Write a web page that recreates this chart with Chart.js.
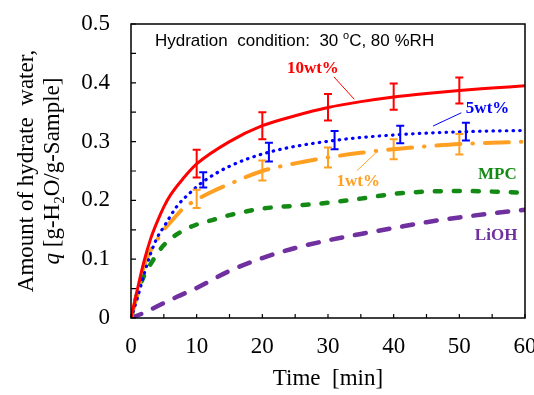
<!DOCTYPE html>
<html>
<head>
<meta charset="utf-8">
<script src="https://cdn.jsdelivr.net/npm/chart.js@4.4.0/dist/chart.umd.min.js"></script>
<style>
  html, body { margin: 0; padding: 0; background: #fff; overflow: hidden; }
  #wrap { width: 545px; height: 395px; }
</style>
</head>
<body>
<div id="wrap"><canvas id="chart" width="545" height="395"></canvas></div>
<script>
// ===== DATA =====
const time10 = [0, 1, 2, 3, 4, 5, 6, 8, 10, 15, 20, 25, 30, 35, 40, 45, 50, 55, 60];
const q10 = [0, 0.05, 0.097, 0.135, 0.164, 0.189, 0.209, 0.238, 0.262, 0.30, 0.327, 0.344, 0.358, 0.368, 0.376, 0.382, 0.387, 0.391, 0.395];

const time5 = [0, 1, 2, 3, 4, 5, 7, 9, 11, 15, 21, 31, 41, 51, 60];
const q5 = [0, 0.035, 0.075, 0.11, 0.137, 0.155, 0.19, 0.213, 0.232, 0.258, 0.282, 0.302, 0.312, 0.317, 0.319];

const time1 = [0, 1, 2, 3, 4, 5, 6.5, 8, 10, 12, 15, 20, 25, 30, 35, 40, 45, 50, 55, 60];
const q1 = [0, 0.042, 0.09, 0.115, 0.133, 0.15, 0.169, 0.187, 0.201, 0.213, 0.228, 0.25, 0.263, 0.273, 0.281, 0.287, 0.292, 0.296, 0.298, 0.30];

const timeMPC = [0, 1, 2, 3, 5, 7.5, 10, 12.5, 15, 20, 25, 30, 35, 40, 45, 50, 55, 60];
const qMPC = [0, 0.043, 0.072, 0.092, 0.124, 0.146, 0.159, 0.167, 0.175, 0.186, 0.191, 0.196, 0.203, 0.211, 0.215, 0.216, 0.215, 0.213];

const timeLiOH = [0, 2, 4, 7, 10, 15, 20, 25, 30, 35, 40, 45, 50, 55, 60];
const qLiOH = [0, 0.009, 0.02, 0.036, 0.051, 0.08, 0.102, 0.119, 0.132, 0.143, 0.153, 0.163, 0.171, 0.178, 0.184];

// error bars (low / high)
const errTime10 = [10, 20, 30, 40, 50];
const errLow10 = [0.239, 0.304, 0.336, 0.354, 0.365];
const errHigh10 = [0.286, 0.350, 0.381, 0.399, 0.409];

const errTime5 = [11, 21, 31, 41, 51];
const errLow5 = [0.222, 0.266, 0.287, 0.297, 0.302];
const errHigh5 = [0.248, 0.298, 0.318, 0.327, 0.332];

const errTime1 = [10, 20, 30, 40, 50];
const errLow1 = [0.187, 0.234, 0.256, 0.270, 0.278];
const errHigh1 = [0.218, 0.268, 0.290, 0.304, 0.313];

const xTicks = [0, 10, 20, 30, 40, 50, 60];
const yTicks = [0, 0.1, 0.2, 0.3, 0.4, 0.5];

const RED = '#ff0000', BLUE = '#0000ff', ORANGE = '#ffa023', GREEN = '#138a13', PURPLE = '#7030a0';
const SERIF = '"Liberation Serif", "Times New Roman", serif';

function pts(xs, ys) {
  return xs.map((t, i) => ({ x: t, y: ys[i] }));
}

// ===== PLUGINS =====
const errorBars = {
  id: 'errorBars',
  afterDatasetsDraw(chart) {
    const { ctx, scales: { x, y } } = chart;
    const sets = [
      [errTime10, errLow10, errHigh10, RED],
      [errTime5, errLow5, errHigh5, BLUE],
      [errTime1, errLow1, errHigh1, ORANGE]
    ];
    ctx.save();
    ctx.lineWidth = 2;
    sets.forEach(([ts, lo, hi, color]) => {
      ctx.strokeStyle = color;
      ts.forEach((t, i) => {
        const px = x.getPixelForValue(t);
        const y1 = y.getPixelForValue(lo[i]);
        const y2 = y.getPixelForValue(hi[i]);
        ctx.beginPath();
        ctx.moveTo(px, y1); ctx.lineTo(px, y2);
        ctx.moveTo(px - 4, y1); ctx.lineTo(px + 4, y1);
        ctx.moveTo(px - 4, y2); ctx.lineTo(px + 4, y2);
        ctx.stroke();
      });
    });
    ctx.restore();
  }
};

const frame = {
  id: 'frame',
  afterDraw(chart) {
    const { ctx, chartArea: a, scales: { x, y } } = chart;
    ctx.save();
    ctx.strokeStyle = '#000';
    ctx.lineWidth = 1.5;
    ctx.strokeRect(a.left, a.top, a.right - a.left, a.bottom - a.top);
    ctx.lineWidth = 1.2;
    ctx.beginPath();
    for (let t = 0; t <= 60; t += 5) {
      const px = x.getPixelForValue(t);
      ctx.moveTo(px, a.bottom); ctx.lineTo(px, a.bottom - 4);
    }
    for (let v = 0; v <= 0.5001; v += 0.05) {
      const py = y.getPixelForValue(v);
      ctx.moveTo(a.left, py); ctx.lineTo(a.left + 5, py);
    }
    ctx.stroke();
    ctx.restore();
  }
};

const labels = {
  id: 'labels',
  afterDraw(chart) {
    const { ctx, scales: { x, y } } = chart;
    const X = v => x.getPixelForValue(v);
    const Y = v => y.getPixelForValue(v);
    ctx.save();

    // condition text
    ctx.fillStyle = '#000';
    ctx.textBaseline = 'alphabetic';
    ctx.textAlign = 'left';
    let cx = X(3.65), cy = Y(0.462);
    ctx.font = '17px "Liberation Sans", Arial, sans-serif';
    const s1 = 'Hydration  condition:  30 ';
    ctx.fillText(s1, cx, cy); cx += ctx.measureText(s1).width;
    ctx.font = '11px "Liberation Sans", Arial, sans-serif';
    ctx.fillText('o', cx, cy - 7); cx += ctx.measureText('o').width;
    ctx.font = '17px "Liberation Sans", Arial, sans-serif';
    ctx.fillText('C, 80 %RH', cx, cy);

    // series labels
    ctx.font = 'bold 17px ' + SERIF;
    ctx.textAlign = 'center';
    [['10wt%', 27.7, 0.417, RED], ['5wt%', 54.3, 0.349, BLUE], ['1wt%', 34.6, 0.2245, ORANGE],
     ['MPC', 55.8, 0.236, GREEN], ['LiOH', 55.6, 0.133, PURPLE]].forEach(([txt, t, q, c]) => {
      ctx.fillStyle = c;
      ctx.fillText(txt, X(t), Y(q));
    });

    // leader lines
    ctx.lineWidth = 1;
    [[30.9, 0.410, 34.0, 0.372, RED], [50.3, 0.349, 46.0, 0.3265, BLUE], [34.4, 0.2505, 37.2, 0.280, ORANGE]]
      .forEach(([t1, q1_, t2, q2, c]) => {
        ctx.strokeStyle = c;
        ctx.beginPath();
        ctx.moveTo(X(t1), Y(q1_)); ctx.lineTo(X(t2), Y(q2));
        ctx.stroke();
      });

    // y axis title (two lines, rotated)
    ctx.fillStyle = '#000';
    ctx.textAlign = 'left';
    const midY = (chart.chartArea.top + chart.chartArea.bottom) / 2;
    ctx.translate(33, midY);
    ctx.rotate(-Math.PI / 2);
    ctx.font = '23px ' + SERIF;
    const l1 = 'Amount of hydrate  water,';
    ctx.fillText(l1, -ctx.measureText(l1).width / 2, 0);

    const parts = [
      ['q', 'italic 23px ' + SERIF, 0],
      [' [g-H', '23px ' + SERIF, 0],
      ['2', '15px ' + SERIF, 5],
      ['O/g-Sample]', '23px ' + SERIF, 0]
    ];
    let w = 0;
    parts.forEach(p => { ctx.font = p[1]; w += ctx.measureText(p[0]).width; });
    let px = -w / 2;
    parts.forEach(p => {
      ctx.font = p[1];
      ctx.fillText(p[0], px, 26 + p[2]);
      px += ctx.measureText(p[0]).width;
    });
    ctx.restore();
  }
};

// ===== CHART =====
const ctx = document.getElementById('chart');

new Chart(ctx, {
  type: 'line',
  data: {
    datasets: [
      { label: '10wt%', data: pts(time10, q10), borderColor: RED, borderWidth: 3 },
      { label: '5wt%', data: pts(time5, q5), borderColor: BLUE, borderWidth: 3.2,
        borderDash: [0.5, 6.2], borderCapStyle: 'round' },
      { label: '1wt%', data: pts(time1, q1), borderColor: ORANGE, borderWidth: 4,
        borderDash: [24, 12, 0.5, 12], borderCapStyle: 'round' },
      { label: 'MPC', data: pts(timeMPC, qMPC), borderColor: GREEN, borderWidth: 4.5,
        borderDash: [6, 13], borderCapStyle: 'round' },
      { label: 'LiOH', data: pts(timeLiOH, qLiOH), borderColor: PURPLE, borderWidth: 4.5,
        borderDash: [11, 13], borderCapStyle: 'round' }
    ]
  },
  options: {
    responsive: false,
    animation: false,
    devicePixelRatio: 1,
    layout: { padding: { top: 24, right: 20, left: 0, bottom: 0 } },
    elements: {
      point: { radius: 0 },
      line: { cubicInterpolationMode: 'monotone', fill: false }
    },
    plugins: { legend: { display: false }, tooltip: { enabled: false } },
    scales: {
      x: {
        type: 'linear', min: 0, max: 60,
        afterBuildTicks: s => { s.ticks = xTicks.map(v => ({ value: v })); },
        afterFit: s => { s.height = 77; s.paddingLeft = 0; s.paddingRight = 0; },
        grid: { display: false, drawTicks: false },
        border: { display: false },
        ticks: { color: '#000', padding: 15, font: { family: SERIF, size: 23 } },
        title: { display: true, text: 'Time  [min]', color: '#000', padding: { top: 0, bottom: 2 },
                 font: { family: SERIF, size: 23 } }
      },
      y: {
        min: 0, max: 0.5,
        afterBuildTicks: s => { s.ticks = yTicks.map(v => ({ value: v })); },
        afterFit: s => { s.width = 131; s.paddingTop = 0; s.paddingBottom = 0; },
        grid: { display: false, drawTicks: false },
        border: { display: false },
        ticks: { color: '#000', padding: 21, font: { family: SERIF, size: 23 },
                 callback: v => (v === 0 ? '0' : v.toFixed(1)) }
      }
    }
  },
  plugins: [errorBars, frame, labels]
});
</script>
</body>
</html>
